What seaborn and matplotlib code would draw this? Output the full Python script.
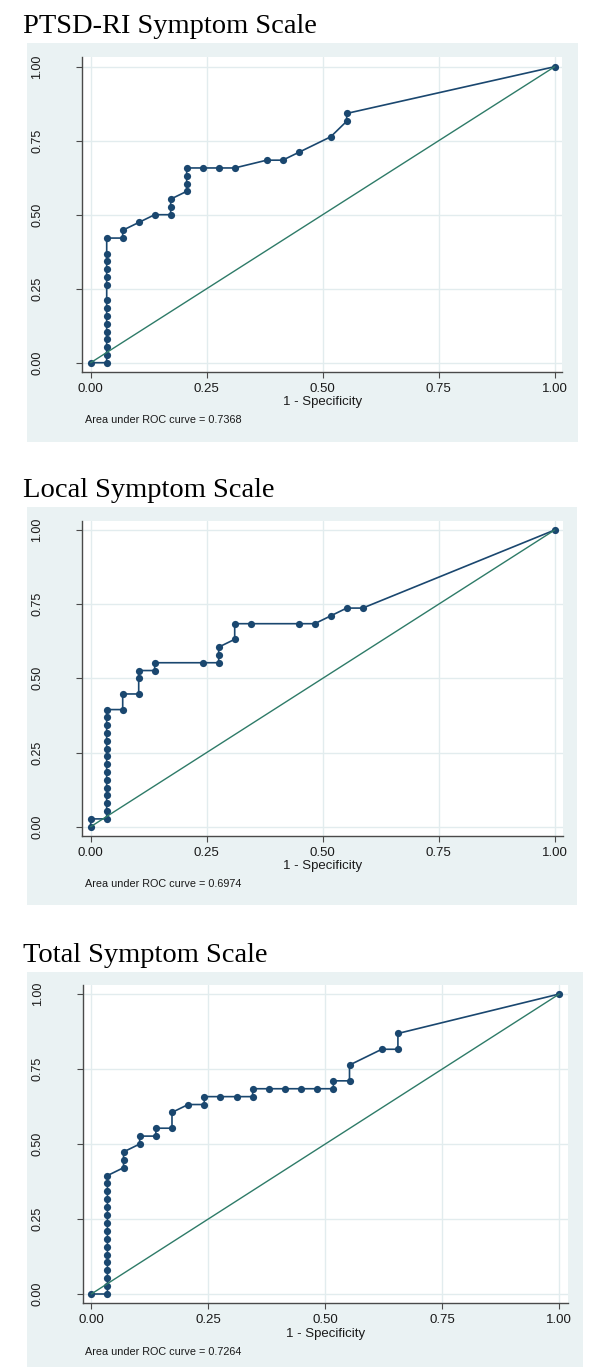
import matplotlib
matplotlib.use("Agg")
import matplotlib.pyplot as plt
import seaborn as sns
import pandas as pd
from matplotlib.patches import Rectangle

# ---------------- data ----------------
# ROC points as counts: false positives out of N_NEG, true positives out of N_POS
N_NEG = 29
N_POS = 38

titles = ["PTSD-RI Symptom Scale", "Local Symptom Scale", "Total Symptom Scale"]
auc_labels = ["Area under ROC curve = 0.7368",
              "Area under ROC curve = 0.6974",
              "Area under ROC curve = 0.7264"]
x_label = "1 - Specificity"
tick_values = [0.0, 0.25, 0.5, 0.75, 1.0]
tick_labels = ["0.00", "0.25", "0.50", "0.75", "1.00"]

ptsd_fp = [0, 1, 1, 1, 1, 1, 1, 1, 1, 1, 1, 1, 1, 1, 1, 1, 2, 2, 3, 4, 5, 5, 5,
           6, 6, 6, 6, 7, 8, 9, 11, 12, 13, 15, 16, 16, 29]
ptsd_tp = [0, 0, 1, 2, 3, 4, 5, 6, 7, 8, 10, 11, 12, 13, 14, 16, 16, 17, 18, 19, 19, 20, 21,
           22, 23, 24, 25, 25, 25, 25, 26, 26, 27, 29, 31, 32, 38]

local_fp = [0, 0, 1, 1, 1, 1, 1, 1, 1, 1, 1, 1, 1, 1, 1, 1, 1, 2, 2, 3, 3, 3, 4, 4,
            7, 8, 8, 8, 9, 9, 10, 13, 14, 15, 16, 17, 29]
local_tp = [0, 1, 1, 2, 3, 4, 5, 6, 7, 8, 9, 10, 11, 12, 13, 14, 15, 15, 17, 17, 19, 20, 20, 21,
            21, 21, 22, 23, 24, 26, 26, 26, 26, 27, 28, 28, 38]

total_fp = [0, 1, 1, 1, 1, 1, 1, 1, 1, 1, 1, 1, 1, 1, 1, 1, 1, 2, 2, 2, 3, 3, 4, 4, 5, 5,
            6, 7, 7, 8, 9, 10, 10, 11, 12, 13, 14, 15, 15, 16, 16, 18, 19, 19, 29]
total_tp = [0, 0, 1, 2, 3, 4, 5, 6, 7, 8, 9, 10, 11, 12, 13, 14, 15, 16, 17, 18, 19, 20, 20, 21, 21, 23,
            24, 24, 25, 25, 25, 25, 26, 26, 26, 26, 26, 26, 27, 27, 29, 31, 31, 33, 38]

series = [(ptsd_fp, ptsd_tp), (local_fp, local_tp), (total_fp, total_tp)]

# ---------------- style ----------------
sns.set_style("white")
plt.rcParams["font.family"] = ["Liberation Sans", "DejaVu Sans"]

W, H = 600, 1367
NAVY = "#1a476f"
GREEN = "#2e7b68"
BG = "#eaf2f3"
GRID = "#e2ecee"
AXC = "#4a4a4a"

fig = plt.figure(figsize=(W / 100, H / 100), dpi=100)
fig.patch.set_facecolor("white")

# panel layout in pixels: background box, axes box, data origin/scale, title baseline
panels = [
    dict(bg=(27.3, 43.3, 578.0, 441.5), ax=(82.3, 57.3, 562.0, 372.0),
         x0=90.7, xs=464.0, y0=362.7, ys=296.0, tb=33.3),
    dict(bg=(27.3, 506.7, 577.0, 905.0), ax=(82.3, 520.7, 562.7, 836.0),
         x0=90.7, xs=464.0, y0=826.7, ys=296.7, tb=496.7),
    dict(bg=(27.3, 971.7, 583.0, 1367.0), ax=(82.8, 985.0, 568.3, 1303.0),
         x0=91.3, xs=468.0, y0=1294.0, ys=300.0, tb=961.7),
]

for p, (fp, tp), title, auc in zip(panels, series, titles, auc_labels):
    bx0, by0, bx1, by1 = p["bg"]
    fig.patches.append(Rectangle((bx0 / W, 1 - by1 / H), (bx1 - bx0) / W, (by1 - by0) / H,
                                 transform=fig.transFigure, facecolor=BG,
                                 edgecolor="none", zorder=-5))
    fig.text(23.3 / W, 1 - p["tb"] / H, title, ha="left", va="baseline",
             family=["Liberation Serif", "DejaVu Serif"], fontsize=20.5, color="black")

    ax0, ay0, ax1, ay1 = p["ax"]
    ax = fig.add_axes([ax0 / W, 1 - ay1 / H, (ax1 - ax0) / W, (ay1 - ay0) / H])
    ax.set_zorder(2)
    ax.set_facecolor("white")

    df = pd.DataFrame({"fpr": [v / N_NEG for v in fp], "tpr": [v / N_POS for v in tp]})
    sns.lineplot(data=df, x="fpr", y="tpr", sort=False, estimator=None, ax=ax,
                 color=NAVY, linewidth=1.2, marker="o", markersize=5.2,
                 markeredgewidth=0, markerfacecolor=NAVY, zorder=3)
    ref = pd.DataFrame({"x": [0.0, 1.0], "y": [0.0, 1.0]})
    sns.lineplot(data=ref, x="x", y="y", sort=False, estimator=None, ax=ax,
                 color=GREEN, linewidth=1.0, zorder=4)

    ax.set_xlim((ax0 - p["x0"]) / p["xs"], (ax1 - p["x0"]) / p["xs"])
    ax.set_ylim((p["y0"] - ay1) / p["ys"], (p["y0"] - ay0) / p["ys"])

    ax.set_xticks(tick_values)
    ax.set_xticklabels(tick_labels)
    ax.set_yticks(tick_values)
    ax.set_yticklabels(tick_labels, rotation=90, va="center")
    ax.tick_params(axis="x", direction="out", length=4, width=0.8, color=AXC,
                   pad=4, labelsize=9.5, labelcolor="#1a1a1a", bottom=True)
    ax.tick_params(axis="y", direction="out", length=4, width=0.8, color=AXC,
                   pad=24, labelsize=9, labelcolor="#1a1a1a", left=True)
    ax.grid(True, color=GRID, linewidth=1.0)
    ax.set_axisbelow(True)
    for s in ["top", "right"]:
        ax.spines[s].set_visible(False)
    for s in ["left", "bottom"]:
        ax.spines[s].set_color(AXC)
        ax.spines[s].set_linewidth(1.0)

    ax.set_xlabel(x_label, fontsize=9.5, color="#1a1a1a", labelpad=1)
    ax.set_ylabel("")

    fig.text(85 / W, 1 - (p["y0"] + 57.3 * p["ys"] / 296.0) / H, auc,
             ha="left", va="center", fontsize=7.8, color="#1a1a1a")

fig.savefig("out.png", dpi=100, facecolor="white")
